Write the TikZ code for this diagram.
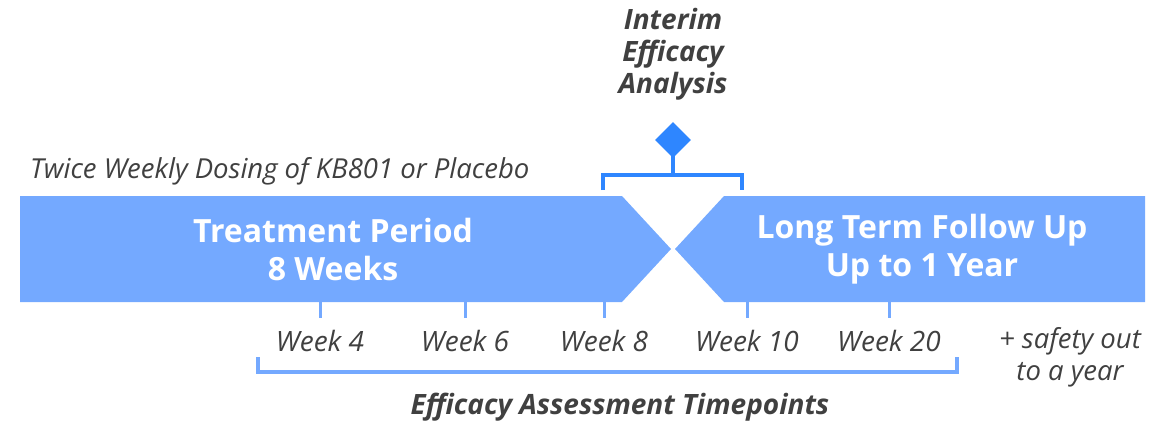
\documentclass[tikz,border=0pt]{standalone}
\usepackage{fontspec}
\setmainfont{Open Sans}
\usepackage{tikz}
\usetikzlibrary{calc,shapes.geometric}
\definecolor{barblue}{HTML}{74A9FF}
\definecolor{markblue}{HTML}{2E86FF}
\definecolor{textgray}{HTML}{404040}
\tikzset{
	periodtext/.style={text=white, font=\fontsize{32}{38}\selectfont\bfseries, align=center},
	weeklabel/.style={text=textgray, font=\fontsize{28}{31}\selectfont\itshape},
	notetext/.style={text=textgray, font=\fontsize{27.5}{32}\selectfont\itshape, align=center},
}

\begin{document}
\begin{tikzpicture}[x=1pt, y=-1pt]
			%%%%% START %%%%%
			\useasboundingbox (0, 0) rectangle (1168, 423);
			
			% the two periods
			\fill[barblue] (20, 196) -- (622, 196) -- (671, 249) -- (622, 302) -- (20, 302) -- cycle;
			\fill[barblue] (1145, 196) -- (724, 196) -- (675, 249) -- (724, 302) -- (1145, 302) -- cycle;
			
			\node[periodtext] (treat) at (333, 249) {Treatment Period\\8 Weeks};
			\node[periodtext] (follow) at (922, 249) {Long Term Follow Up\\Up to 1 Year};
			
			\node[notetext, anchor=base west, inner sep=0] (dosing) at (30, 178) {Twice Weekly Dosing of KB801 or Placebo};
			
			% interim analysis marker
			\node[notetext, font=\fontsize{28}{32}\selectfont\bfseries\itshape] (interim) at (673, 54) {Interim\\Efficacy\\Analysis};
			\draw[markblue, line width=3.5pt] (603, 190) -- (603, 175) -- (742, 175) -- (742, 190);
			\draw[markblue, line width=3.5pt] (673, 175) -- (673, 150);
			\node[diamond, fill=markblue, minimum size=36pt, inner sep=0] (mark) at (673, 140) {};
			
			% assessment weeks
			\foreach \x/\w in {320/4, 465/6, 604/8, 747/10, 889/20} {
				\draw[barblue, line width=3pt] (\x, 302) -- (\x, 318);
				\node[weeklabel] (wk\w) at (\x, 341) {Week \w};
			}
			
			\node[notetext] (safety) at (1070, 357) {+ safety out\\to a year};
			
			\draw[barblue, line width=3.5pt] (258, 357) -- (258, 372) -- (957, 372) -- (957, 357);
			\node[notetext, font=\fontsize{28}{32}\selectfont\bfseries\itshape] (assess) at (620, 407) {Efficacy Assessment Timepoints};
			
			%%%%% END %%%%%
		\end{tikzpicture}
\end{document}
